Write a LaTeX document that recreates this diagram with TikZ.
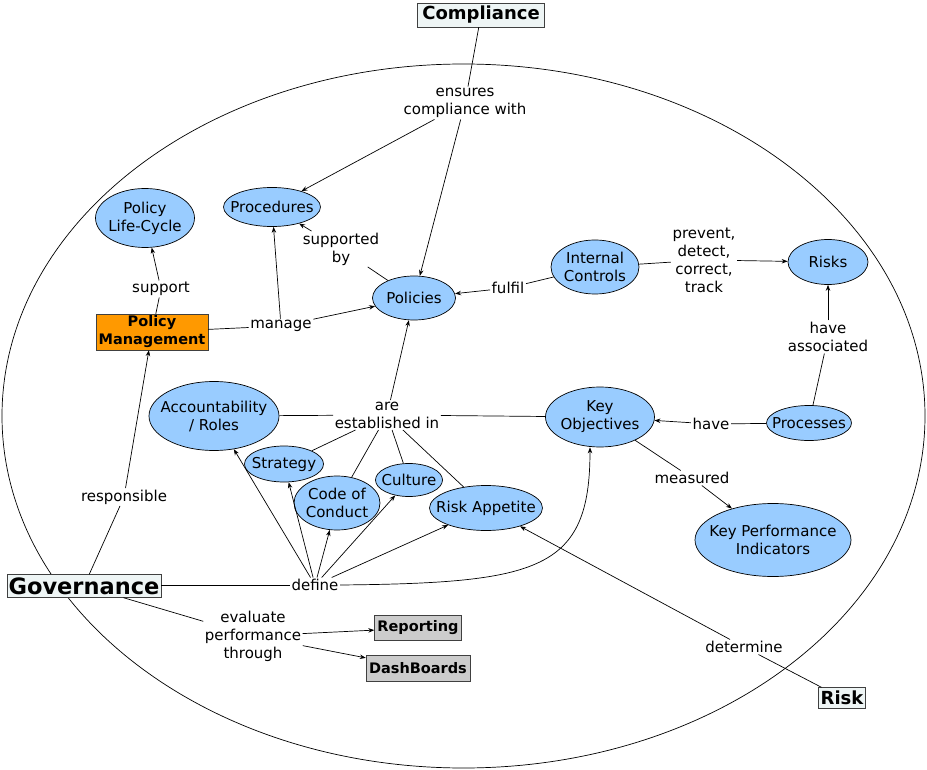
\documentclass[tikz,border=0pt]{standalone}
\usepackage{fontspec}
\setmainfont{DejaVu Sans}
\usetikzlibrary{shapes.geometric,arrows.meta}
\definecolor{cblue}{RGB}{153,204,255}
\definecolor{corange}{RGB}{255,153,0}
\definecolor{cgray}{RGB}{204,204,204}
\definecolor{clight}{RGB}{238,245,245}
\newcommand\myconcept[5]{%
  \node[cshape,minimum width=#3,minimum height=#4] (#1) at (#2) {};
  \node[ctext] (#1-t) at (#1) {#5};}
\begin{document}
\begin{tikzpicture}[x=1pt,y=-1pt,
 cshape/.style={ellipse,draw=black,fill=cblue,inner sep=0pt,line width=0.7pt},
 ctext/.style={inner sep=0pt,align=center,font=\fontsize{15}{18}\selectfont},
 lbl/.style={inner sep=1.5pt,align=center,font=\fontsize{15}{18}\selectfont},
 titlebox/.style={draw=black!75,fill=clight,inner sep=0pt,font=\bfseries\fontsize{18}{20}\selectfont},
 graybox/.style={draw=black!75,fill=cgray,inner sep=0pt,font=\bfseries\fontsize{14.5}{16}\selectfont},
 arr/.style={-{Stealth[length=6pt,width=4.5pt]},line width=0.7pt},
 ln/.style={line width=0.7pt},
]
\useasboundingbox (0,0) rectangle (927,770);
\draw[ln] (463.5,416) ellipse [x radius=461.5, y radius=352];

% concepts
\myconcept{proc}{272,207}{97pt}{39pt}{Procedures}
\myconcept{plc}{145,218}{99pt}{59pt}{Policy\\Life-Cycle}
\myconcept{pol}{414,298}{83pt}{44pt}{Policies}
\myconcept{ic}{595,267}{88pt}{54pt}{Internal\\Controls}
\myconcept{risks}{828,262}{80pt}{45pt}{Risks}
\myconcept{acc}{214,416}{130pt}{69pt}{Accountability\\/ Roles}
\myconcept{ko}{600,417}{109pt}{60pt}{Key\\Objectives}
\myconcept{prs}{809,423}{85pt}{35pt}{Processes}
\myconcept{str}{284,464}{79pt}{36pt}{Strategy}
\myconcept{coc}{337,503}{86pt}{54pt}{Code of\\Conduct}
\myconcept{cul}{409,480}{67pt}{33pt}{Culture}
\myconcept{ra}{486,508}{113pt}{45pt}{Risk Appetite}
\myconcept{kpi}{773,540}{156pt}{73pt}{Key Performance\\Indicators}

% boxes
\node[titlebox,minimum width=127pt,minimum height=24pt] (comp) at (481,15) {Compliance};
\node[titlebox,minimum width=154pt,minimum height=23pt,font=\bfseries\fontsize{22.5}{24}\selectfont] (gov) at (84,586) {Governance};
\node[titlebox,minimum width=47pt,minimum height=21pt] (risk) at (842,698) {Risk};
\node[draw=black!75,fill=corange,inner sep=0pt,minimum width=112pt,minimum height=36pt,align=center,font=\bfseries\fontsize{14.5}{18}\selectfont] (pm) at (152,332) {Policy\\Management};
\node[graybox,minimum width=87pt,minimum height=25pt] (rep) at (418,628) {Reporting};
\node[graybox,minimum width=104pt,minimum height=26pt] (dash) at (418,668) {DashBoards};

% labels
\node[lbl] (ens) at (465,103) {ensures\\compliance with};
\node[lbl] (sup) at (341,249) {supported\\by};
\node[lbl] (ful) at (508,288) {fulfil};
\node[lbl] (pdct) at (704,260) {prevent,\\detect,\\correct,\\track};
\node[lbl] (hass) at (828,337) {have\\associated};
\node[lbl] (spt) at (161,289) {support};
\node[lbl] (man) at (281,326) {manage};
\node[lbl] (est) at (387,415) {are\\established in};
\node[lbl] (have) at (711,424) {have};
\node[lbl] (meas) at (692,478) {measured};
\node[lbl] (resp) at (124,497) {responsible};
\node[lbl] (def) at (315,585) {define};
\node[lbl] (eval) at (253,636) {evaluate\\performance\\through};
\node[lbl] (det) at (744,647) {determine};

% connectors
\draw[ln] (comp) -- (ens);
\draw[arr] (ens) -- (proc);
\draw[arr] (ens) -- (pol);
\draw[ln] (pol) -- (sup);
\draw[arr] (sup) -- (proc);
\draw[ln] (ic) -- (ful);
\draw[arr] (ful) -- (pol);
\draw[ln] (ic) -- (pdct);
\draw[arr] (pdct) -- (risks);
\draw[ln] (prs) -- (hass);
\draw[arr] (hass) -- (risks);
\draw[ln] (prs) -- (have);
\draw[arr] (have) -- (ko);
\draw[ln] (ko) -- (meas);
\draw[arr] (meas) -- (kpi);
\draw[ln] (pm) -- (spt);
\draw[arr] (spt) -- (plc);
\draw[ln] (pm) -- (man);
\draw[arr] (man) -- (proc);
\draw[arr] (man) -- (pol);
\draw[ln] (acc) -- (est);
\draw[ln] (ko) -- (est);
\draw[ln] (str) -- (est);
\draw[ln] (coc) -- (est);
\draw[ln] (cul) -- (est);
\draw[ln] (ra) -- (est);
\draw[arr] (est) -- (pol);
\draw[ln] (gov) -- (resp);
\draw[arr] (resp) -- (pm);
\draw[ln] (gov.east |- def) -- (def);
\draw[arr] (def) -- (acc);
\draw[arr] (def) -- (str);
\draw[arr] (def) -- (coc);
\draw[arr] (def) -- (cul);
\draw[arr] (def) -- (ra);
\draw[arr] (def.east) .. controls (540,583) and (590,570) .. ([xshift=-10pt]ko.south);
\draw[ln] (gov) -- (eval);
\draw[arr] (eval) -- (rep);
\draw[arr] (eval) -- (dash);
\draw[ln] (risk) -- (det);
\draw[arr] (det) -- (ra);
\end{tikzpicture}
\end{document}
